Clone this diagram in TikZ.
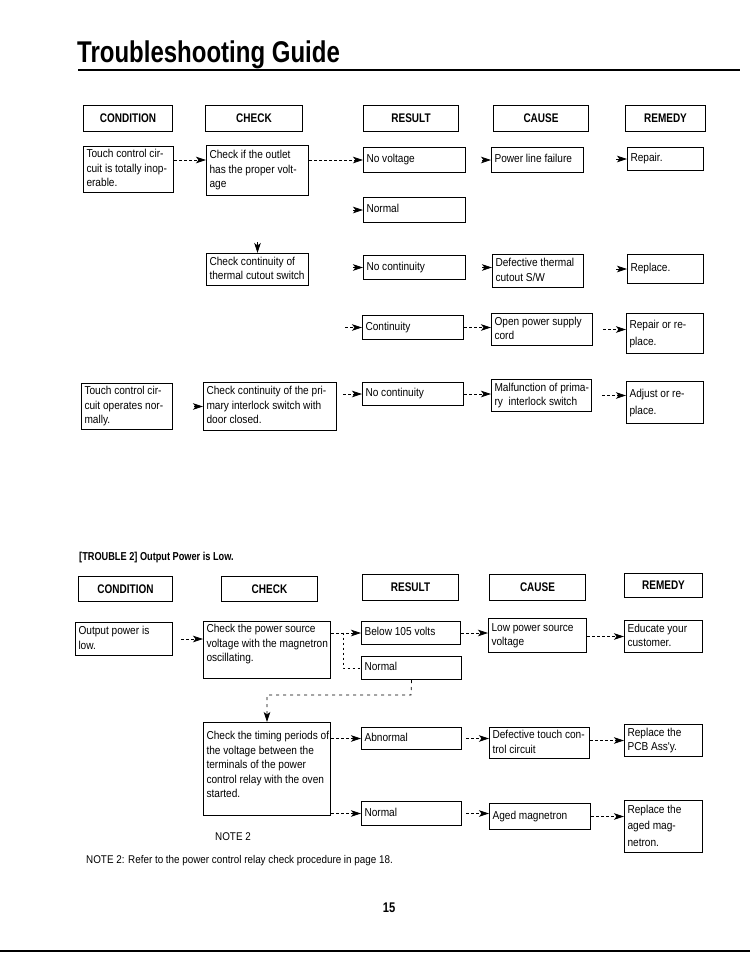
\documentclass[tikz,border=0pt]{standalone}
\usepackage{fontspec}
\setmainfont{Liberation Sans}
\newfontfamily\cf{Liberation Sans}[FakeStretch=0.88]
\newfontfamily\hf{Liberation Sans}[FakeStretch=0.80]
\usetikzlibrary{arrows.meta}
\newcommand\bodytext{\cf\fontsize{11.5}{14.5}\selectfont}
\newcommand\bodywide{\cf\fontsize{11.5}{17.5}\selectfont}
\newcommand\headtext{\hf\bfseries\fontsize{12.5}{14}\selectfont}
\tikzset{
  box/.style={draw, line width=1pt, anchor=north west, inner xsep=3pt, inner ysep=1pt, font=\bodytext},
  hbox/.style={draw, line width=1pt, anchor=north west, inner sep=0pt, align=center, font=\headtext},
  conn/.style={line width=0.7pt, dash pattern=on 2.5pt off 2.5pt, -{Stealth[length=10pt,width=6.5pt,inset=2.5pt]}},
  ahead/.style={line width=0.7pt, -{Stealth[length=10pt,width=6.5pt,inset=2.5pt]}, shorten <=#1},
  dline/.style={line width=0.7pt, dash pattern=on 2.5pt off 2.5pt},
  plain/.style={inner sep=0pt},
}
\newcommand\bx[7][]{\pgfmathsetlengthmacro\tw{#5-6}%
  \node[box,minimum width=#5pt,minimum height=#6pt,#1] (#2) at (#3,#4)
   {\makebox[\tw][l]{\begin{tabular}{@{}l@{}}#7\end{tabular}}};}
\newcommand\hb[6]{\node[hbox,minimum width=#5pt,minimum height=#6pt] (#1) at (#2,#3) {#4};}
\begin{document}
\begin{tikzpicture}[x=1pt,y=-1pt]
\useasboundingbox (0,0) rectangle (750,970);
% title
\node[plain, anchor=base west, font=\hf\bfseries\fontsize{30}{32}\selectfont] (title) at (77,62) {Troubleshooting Guide};
\draw[line width=1.5pt] (78,70) -- (740,70);
% headers 1
\hb{hc1}{83}{105}{CONDITION}{89}{26}
\hb{hk1}{205}{105}{CHECK}{97}{26}
\hb{hr1}{363}{105}{RESULT}{95}{26}
\hb{hca1}{493}{105}{CAUSE}{95}{26}
\hb{hre1}{625}{105}{REMEDY}{80}{26}
% section 1 boxes
\bx{touch1}{83}{146}{90}{46}{Touch control cir-\\cuit is totally inop-\\erable.}
\bx{check1}{206}{145}{102}{50}{Check if the outlet\\has the proper volt-\\age}
\bx{novolt}{363}{147}{102}{25}{No voltage}
\bx{powerfail}{491}{147}{92}{25}{Power line failure}
\bx{repair}{627}{147}{76}{23}{Repair.}
\bx{normal1}{363}{197}{102}{25}{Normal}
\bx{thermal}{206}{253}{102}{32}{Check continuity of\\thermal cutout switch}
\bx{nocont1}{363}{255}{102}{24}{No continuity}
\bx{defthermal}{492}{254}{91}{33}{Defective thermal\\cutout S/W}
\bx{replace1}{627}{254}{76}{29}{Replace.}
\bx{cont}{362}{315}{101}{24}{Continuity}
\bx{openpower}{491}{313}{101}{32}{Open power supply\\cord}
\bx[font=\bodywide]{repair2}{626}{313}{77}{40}{Repair or re-\\place.}
\bx{touch2}{81}{383}{91}{46}{Touch control cir-\\cuit operates nor-\\mally.}
\bx{check2}{203}{382}{133}{48}{Check continuity of the pri-\\mary interlock switch with\\door closed.}
\bx{nocont2}{362}{382}{101}{23}{No continuity}
\bx{malfunction}{491}{379}{100}{32}{Malfunction of prima-\\ry\ \ interlock switch}
\bx[font=\bodywide]{adjust}{626}{381}{77}{42}{Adjust or re-\\place.}
% section 1 connectors
\draw[conn] (touch1.east |- novolt.west) -- (check1.west |- novolt.west);
\draw[conn] (check1.east |- novolt.west) -- (novolt.west);
\draw[ahead=16pt] (novolt.east) -- (powerfail.west |- novolt.east);
\draw[ahead=32pt] (powerfail.east |- repair.west) -- (repair.west);
\draw[ahead=44pt] (check1.east |- normal1.west) -- (normal1.west);
\draw[ahead=46pt] (check1.south) -- (thermal.north);
\draw[ahead=44pt] (thermal.east |- nocont1.west) -- (nocont1.west);
\draw[ahead=16pt] (nocont1.east) -- (defthermal.west |- nocont1.east);
\draw[ahead=32pt] (defthermal.east |- replace1.west) -- (replace1.west);
\draw[conn, shorten <=36pt] (thermal.east |- cont.west) -- (cont.west);
\draw[conn] (cont.east) -- (openpower.west |- cont.east);
\draw[conn, shorten <=10pt] (openpower.east) -- (repair2.west |- openpower.east);
\draw[ahead=21pt] (touch2.east) -- (check2.west |- touch2.east);
\draw[conn, shorten <=6pt] (check2.east |- nocont2.west) -- (nocont2.west);
\draw[conn] (nocont2.east) -- (malfunction.west |- nocont2.east);
\draw[conn, shorten <=10pt] (malfunction.east) -- (adjust.west |- malfunction.east);
% section 2
\node[plain, anchor=base west, font=\hf\bfseries\fontsize{11.5}{13}\selectfont] (trouble2) at (79,560) {[TROUBLE 2] Output Power is Low.};
\hb{hc2}{78}{576}{CONDITION}{94}{25}
\hb{hk2}{221}{576}{CHECK}{96}{25}
\hb{hr2}{362}{574}{RESULT}{96}{26}
\hb{hca2}{489}{574}{CAUSE}{96}{26}
\hb{hre2}{624}{573}{REMEDY}{78}{24}
\bx{outpow}{75}{622}{97}{33}{Output power is\\low.}
\bx{check3}{203}{621}{127}{57}{Check the power source\\voltage with the magnetron\\oscillating.\\[11pt]}
\bx{below}{361}{621}{99}{23}{Below 105 volts}
\bx{normal3}{361}{656}{100}{23}{Normal}
\bx{lowpow}{488}{618}{98}{34}{Low power source\\voltage}
\bx{educate}{624}{620}{78}{32}{Educate your\\customer.}
\bx{timing}{203}{722}{127}{93}{Check the timing periods of\\the voltage between the\\terminals of the power\\control relay with the oven\\started.\\[6pt]}
\bx{abnormal}{361}{727}{100}{22}{Abnormal}
\bx{deftouch}{489}{727}{100}{31}{Defective touch con-\\trol circuit}
\bx{pcb}{624}{724}{78}{32}{Replace the\\PCB Ass'y.}
\bx{normal4}{361}{801}{100}{24}{Normal}
\bx{aged}{489}{803}{101}{26}{Aged magnetron}
\bx[font=\cf\fontsize{11.5}{16.5}\selectfont]{replaced}{624}{800}{78}{52}{Replace the\\aged mag-\\netron.}
% section 2 connectors
\coordinate (br) at (343,632.5);
\coordinate (fbk) at (411,695);
\draw[conn, shorten <=8pt] (outpow.east) -- (check3.west |- outpow.east);
\draw[conn] (check3.east |- below.west) -- (below.west);
\draw[dline] (br) |- (normal3.west);
\draw[conn] (below.east) -- (lowpow.west |- below.east);
\draw[conn] (lowpow.east |- educate.west) -- (educate.west);
\draw[conn, dash pattern=on 3pt off 4pt] (normal3.south) -- (fbk) -| (timing.north);
\draw[conn] (timing.east |- abnormal.west) -- (abnormal.west);
\draw[conn, shorten <=4pt] (abnormal.east) -- (deftouch.west |- abnormal.east);
\draw[conn] (deftouch.east |- pcb.west) -- (pcb.west);
\draw[conn] (timing.east |- normal4.west) -- (normal4.west);
\draw[conn, shorten <=4pt] (normal4.east) -- (aged.west |- normal4.east);
\draw[conn] (aged.east) -- (replaced.west |- aged.east);
% notes
\node[plain, anchor=base west, font=\cf\fontsize{11.2}{13}\selectfont] (note2) at (215,840) {NOTE 2};
\node[plain, anchor=base west, font=\cf\fontsize{11.2}{13}\selectfont] (notetext) at (86,863) {NOTE 2: Refer to the power control relay check procedure in page 18.};
\node[plain, anchor=base, font=\hf\bfseries\fontsize{14}{16}\selectfont] (pageno) at (389,912) {15};
\draw[line width=1.2pt] (0,951) -- (750,951);
\end{tikzpicture}
\end{document}
